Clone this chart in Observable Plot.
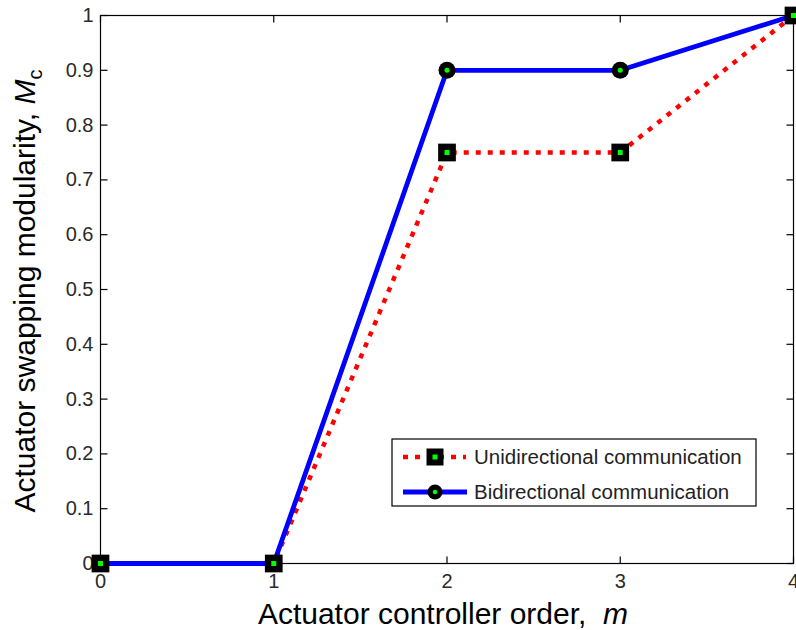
<!DOCTYPE html>
<html>
<head>
<meta charset="utf-8">
<script src="https://cdn.jsdelivr.net/npm/d3@7"></script>
<script src="https://cdn.jsdelivr.net/npm/@observablehq/plot@0.6"></script>
<style>
  html, body { margin: 0; padding: 0; background: #fff; }
  #chart { width: 796px; height: 630px; overflow: hidden; }
  text { font-family: "Liberation Sans", Arial, sans-serif; }
</style>
</head>
<body>
<div id="chart"></div>
<script>
// Actuator controller order m and the resulting swapping modularity M_c
const orders = [0, 1, 2, 3, 4];
const unidirectional = [0, 0, 0.75, 0.75, 1];
const bidirectional = [0, 0, 0.9, 0.9, 1];

const xTicks = [0, 1, 2, 3, 4];
const yTicks = [0, 0.1, 0.2, 0.3, 0.4, 0.5, 0.6, 0.7, 0.8, 0.9, 1];

const seriesNames = ["Unidirectional communication", "Bidirectional communication"];
const xLabel = "Actuator controller order,\u00a0\u00a0";
const xLabelVar = "m";
const yLabel = "Actuator swapping modularity,\u00a0";
const yLabelVar = "M";
const yLabelSub = "c";

const rows = orders.map((m, i) => ({m, uni: unidirectional[i], bi: bidirectional[i]}));

const RED = "#ff0000", BLUE = "#0000ff", GREEN = "#00ff00";
const redDash = "5,7";

// short inward tick drawn as a dot symbol (rotated per side)
const tickLen = 7;
const tickSymbol = {draw(ctx) { ctx.moveTo(0, 0); ctx.lineTo(0, -tickLen); }};
const tickStyle = {symbol: tickSymbol, fill: "none", stroke: "#000", strokeWidth: 1.2};

const plot = Plot.plot({
  width: 796,
  height: 630,
  marginLeft: 100,
  marginRight: 3,
  marginTop: 15,
  marginBottom: 67,
  style: {background: "#fff", color: "#2a2a2a", fontFamily: "Liberation Sans, Arial, sans-serif"},
  x: {domain: [0, 4]},
  y: {domain: [0, 1]},
  marks: [
    Plot.axisX({ticks: xTicks, tickSize: 0, tickPadding: 10, fontSize: 20, label: null, tickFormat: d => d}),
    Plot.axisY({ticks: yTicks, tickSize: 0, tickPadding: 7, fontSize: 20, label: null, tickFormat: d => d}),
    Plot.frame({stroke: "#000", strokeWidth: 1.2}),
    Plot.dot(xTicks, {x: d => d, y: 0, rotate: 0, ...tickStyle}),
    Plot.dot(xTicks, {x: d => d, y: 1, rotate: 180, ...tickStyle}),
    Plot.dot(yTicks, {x: 0, y: d => d, rotate: 90, ...tickStyle}),
    Plot.dot(yTicks, {x: 4, y: d => d, rotate: -90, ...tickStyle}),
    Plot.line(rows, {x: "m", y: "uni", stroke: RED, strokeWidth: 4.5, strokeDasharray: redDash, strokeLinecap: "butt"}),
    Plot.line(rows, {x: "m", y: "bi", stroke: BLUE, strokeWidth: 4.8}),
    Plot.dot(rows, {x: "m", y: "bi", r: 8.5, fill: "#000", stroke: null}),
    Plot.dot(rows, {x: "m", y: "bi", r: 2.5, fill: GREEN, stroke: null}),
    Plot.dot(rows, {x: "m", y: "uni", symbol: "square", r: 10, fill: "#000", stroke: null}),
    Plot.dot(rows, {x: "m", y: "uni", symbol: "square", r: 2.8, fill: GREEN, stroke: null})
  ]
});

document.getElementById("chart").appendChild(plot);

const svg = d3.select(plot);

// axis titles
const xt = svg.append("text")
  .attr("x", 443).attr("y", 624)
  .attr("text-anchor", "middle")
  .attr("font-size", 30).attr("fill", "#000");
xt.append("tspan").text(xLabel);
xt.append("tspan").attr("font-style", "italic").text(xLabelVar);

const yt = svg.append("text")
  .attr("transform", "translate(35,291) rotate(-90)")
  .attr("text-anchor", "middle")
  .attr("font-size", 30).attr("fill", "#000");
yt.append("tspan").text(yLabel);
yt.append("tspan").attr("font-style", "italic").text(yLabelVar);
yt.append("tspan").attr("font-size", 20).attr("dy", 7).text(yLabelSub);

// legend box
const lg = svg.append("g").attr("transform", "translate(392,439)").attr("text-anchor", "start");
lg.append("rect").attr("width", 364).attr("height", 67)
  .attr("fill", "#fff").attr("stroke", "#000").attr("stroke-width", 1.2);

const rowY = [18, 53];
// unidirectional entry
lg.append("line").attr("x1", 11).attr("x2", 74).attr("y1", rowY[0]).attr("y2", rowY[0])
  .attr("stroke", RED).attr("stroke-width", 4.5).attr("stroke-dasharray", redDash);
lg.append("rect").attr("x", 43 - 8.5).attr("y", rowY[0] - 8.5).attr("width", 17).attr("height", 17).attr("fill", "#000");
lg.append("rect").attr("x", 43 - 2.5).attr("y", rowY[0] - 2.5).attr("width", 5).attr("height", 5).attr("fill", GREEN);
// bidirectional entry
lg.append("line").attr("x1", 11).attr("x2", 75).attr("y1", rowY[1]).attr("y2", rowY[1])
  .attr("stroke", BLUE).attr("stroke-width", 4.8);
lg.append("circle").attr("cx", 43).attr("cy", rowY[1]).attr("r", 7.5).attr("fill", "#000");
lg.append("circle").attr("cx", 43).attr("cy", rowY[1]).attr("r", 2.3).attr("fill", GREEN);

seriesNames.forEach((name, i) => {
  lg.append("text").attr("x", 82).attr("y", rowY[i]).attr("dy", "0.36em")
    .attr("text-anchor", "start")
    .attr("font-size", 20.5).attr("fill", "#222").text(name);
});
</script>
</body>
</html>
